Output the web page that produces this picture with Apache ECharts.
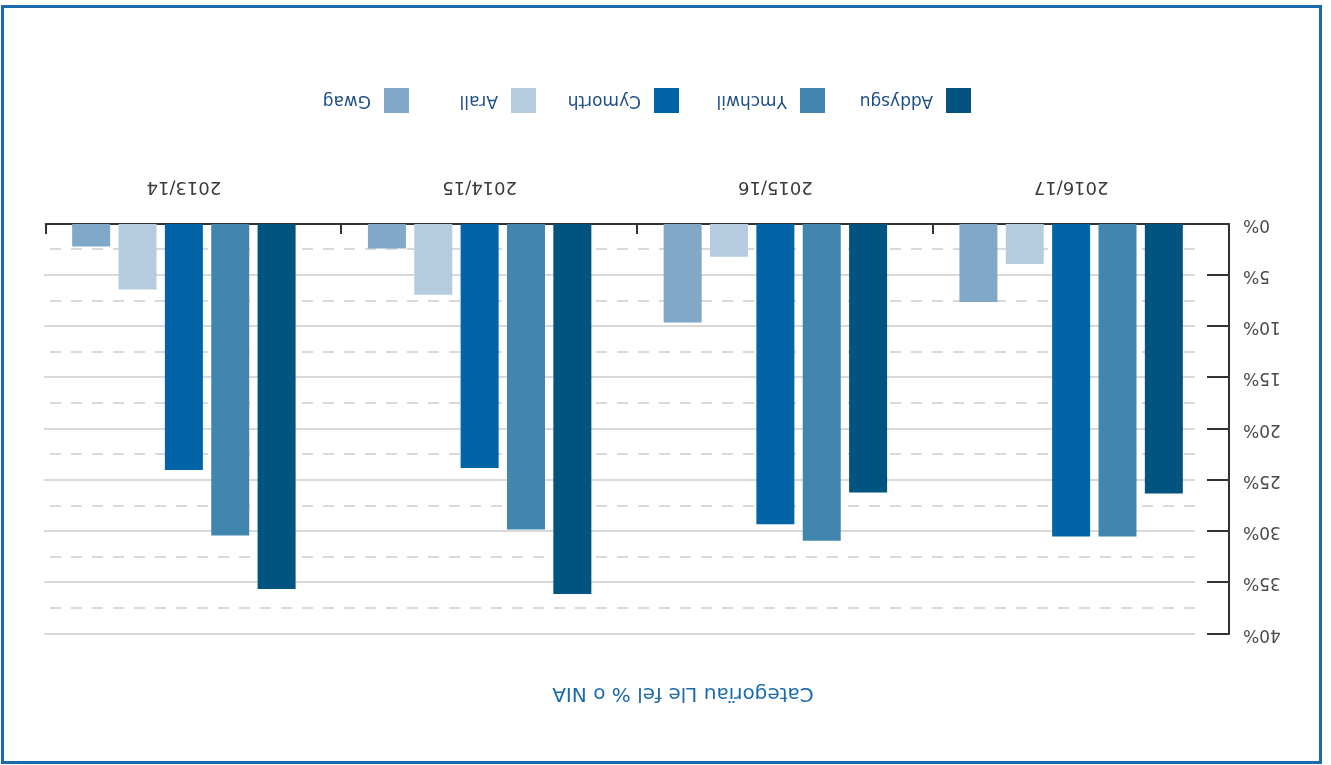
<!DOCTYPE html>
<html>
<head>
<meta charset="utf-8">
<script src="https://cdn.jsdelivr.net/npm/echarts@6/dist/echarts.min.js"></script>
<style>
  html, body { margin: 0; padding: 0; background: #fff; overflow: hidden; }
  #chart { width: 1331px; height: 765px; transform: rotate(180deg); transform-origin: 50% 50%; }
</style>
</head>
<body>
<div id="chart"></div>
<script>
// Space categories as % of NIA, by academic year
const years = ['2013/14', '2014/15', '2015/16', '2016/17'];
const seriesNames = ['Addysgu', 'Ymchwil', 'Cymorth', 'Arall', 'Gwag'];
const addysgu = [35.6, 36.1, 26.2, 26.3];
const ymchwil = [30.4, 29.8, 30.9, 30.5];
const cymorth = [24.0, 23.8, 29.3, 30.5];
const arall = [6.4, 6.9, 3.2, 3.9];
const gwag = [2.2, 2.4, 9.6, 7.6];
const colours = ['#00547f', '#4285ae', '#0064a7', '#b4cbe0', '#80a8c8'];
const titleText = 'Categorïau Lle fel % o NIA';

const font = 'DejaVu Sans';
const axisDark = { color: '#333333', width: 2 };
const values = [addysgu, ymchwil, cymorth, arall, gwag];
// left edge of each legend entry
const legendLefts = [360, 506, 652, 795, 922];

const chart = echarts.init(document.getElementById('chart'), null, { renderer: 'canvas' });

chart.setOption({
  backgroundColor: '#ffffff',
  animation: false,
  graphic: [{
    type: 'rect',
    shape: { x: 10.5, y: 2.5, width: 1318, height: 756 },
    style: { fill: 'none', stroke: '#1a6aad', lineWidth: 3 },
    silent: true
  }],
  title: {
    text: titleText,
    left: 643,
    top: 57,
    textAlign: 'center',
    textStyle: { fontFamily: font, fontSize: 20, fontWeight: 'normal', color: '#1a6aad' }
  },
  legend: seriesNames.map((name, i) => ({
    data: [name],
    left: legendLefts[i],
    top: 652,
    padding: 0,
    icon: 'rect',
    itemWidth: 25,
    itemHeight: 25,
    textStyle: { fontFamily: font, fontSize: 17, color: '#1d4f86', padding: [0, 0, 0, 8] }
  })),
  grid: [
    { left: 112, top: 131, width: 1183, height: 410 },
    { left: 136, top: 131, width: 1151, height: 410 },
    { left: 102, top: 131, width: 1183, height: 410 }
  ],
  xAxis: [
    {
      gridIndex: 0, type: 'category', data: years, inverse: true,
      axisLine: { show: false }, axisTick: { show: false },
      axisLabel: { margin: 28, fontFamily: font, fontSize: 18, color: '#3a3a3a' }
    },
    { gridIndex: 1, type: 'category', data: years, inverse: true, show: false },
    {
      gridIndex: 2, type: 'category', data: years, inverse: true,
      axisLine: { show: true, lineStyle: axisDark },
      axisTick: { show: true, inside: true, length: 10, lineStyle: axisDark },
      axisLabel: { show: false }
    }
  ],
  yAxis: [
    { gridIndex: 0, type: 'value', min: 0, max: 40, interval: 5, show: false },
    {
      gridIndex: 1, type: 'value', min: 0, max: 40, interval: 5,
      axisLine: { show: false }, axisTick: { show: false }, axisLabel: { show: false },
      splitLine: { show: true, lineStyle: { color: '#d9d9d9', width: 2 } },
      minorTick: { show: false, splitNumber: 2 },
      minorSplitLine: { show: true, lineStyle: { color: '#d9d9d9', width: 2, type: [11, 10] } }
    },
    {
      gridIndex: 2, type: 'value', min: 0, max: 40, interval: 5,
      axisLine: { show: true, lineStyle: axisDark },
      axisTick: { show: true, inside: true, length: 22, lineStyle: axisDark },
      axisLabel: { formatter: '{value}%', margin: 14, fontFamily: font, fontSize: 17, color: '#4a4a4a' },
      splitLine: { show: false }
    }
  ],
  series: seriesNames.map((name, i) => ({
    name: name,
    type: 'bar',
    xAxisIndex: 0,
    yAxisIndex: 0,
    data: values[i],
    barWidth: 38,
    barGap: '22%',
    itemStyle: { color: colours[i] }
  })),
  color: colours
});
</script>
</body>
</html>
